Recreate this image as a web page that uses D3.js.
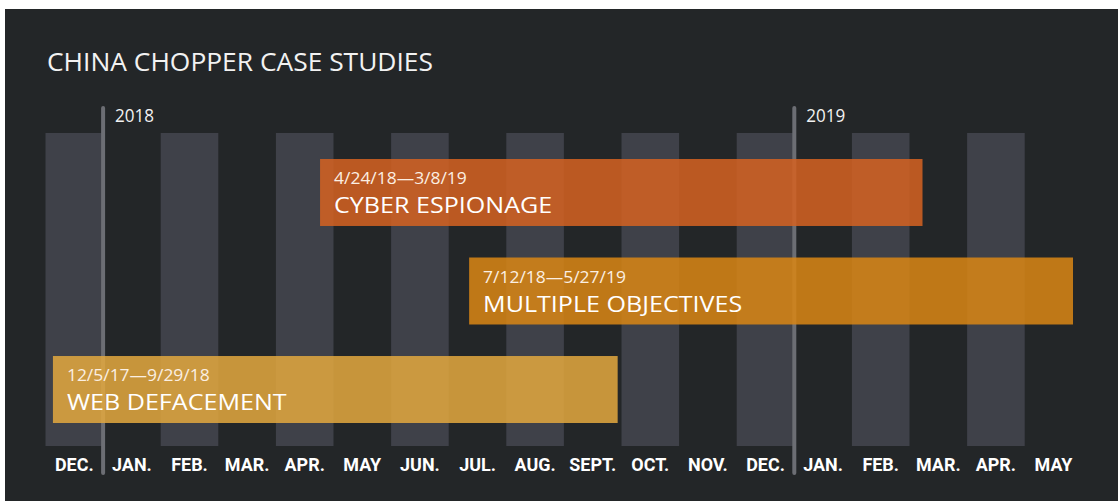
<!DOCTYPE html>
<html>
<head>
<meta charset="utf-8">
<script src="https://cdn.jsdelivr.net/npm/d3@7"></script>
<style>
  html, body { margin: 0; padding: 0; background: #ffffff; }
  svg { display: block; }
</style>
</head>
<body>
<svg id="chart" width="1118" height="501"></svg>
<script>
// ---- data ----
const title = "CHINA CHOPPER CASE STUDIES";
const monthLabels = ["DEC.","JAN.","FEB.","MAR.","APR.","MAY","JUN.","JUL.","AUG.","SEPT.","OCT.","NOV.","DEC.","JAN.","FEB.","MAR.","APR.","MAY"];
const startMonth = { year: 2017, month: 12 };
const yearMarkers = [ { label: "2018", monthIndex: 1 }, { label: "2019", monthIndex: 13 } ];
const caseNames = ["CYBER ESPIONAGE", "MULTIPLE OBJECTIVES", "WEB DEFACEMENT"];
const caseStarts = ["4/24/18", "7/12/18", "12/5/17"];
const caseEnds = ["3/8/19", "5/27/19", "9/29/18"];
const caseColors = ["#d46222", "#d88615", "#e2a83f"];

// ---- helpers ----
function monthPos(str) {
  const [m, d, y] = str.split("/").map(Number);
  const year = 2000 + y;
  const days = new Date(year, m, 0).getDate();
  return (year - startMonth.year) * 12 + (m - startMonth.month) + (d - 1) / days;
}
function widen(sel, f) {
  sel.each(function () {
    const len = this.getComputedTextLength();
    d3.select(this).attr("textLength", len * f).attr("lengthAdjust", "spacingAndGlyphs");
  });
}

const svg = d3.select("#chart");
const W = 1118, H = 501;

svg.append("rect").attr("x", 5).attr("y", 9).attr("width", W - 5).attr("height", H - 9).attr("fill", "#232628");

const x = d3.scaleLinear().domain([0, monthLabels.length]).range([45.5, 45.5 + monthLabels.length * 57.6]);
const y = d3.scaleBand().domain(caseNames).range([159, 423]).paddingInner(0.32).paddingOuter(0);

// month bands (every other month)
svg.append("g").selectAll("rect")
  .data(monthLabels.map((m, i) => i).filter(i => i % 2 === 0))
  .join("rect")
  .attr("x", i => x(i))
  .attr("width", i => x(i + 1) - x(i))
  .attr("y", 133)
  .attr("height", 446 - 133)
  .attr("fill", "#3f4149");

// year marker lines
svg.append("g").selectAll("line")
  .data(yearMarkers)
  .join("line")
  .attr("x1", d => x(d.monthIndex))
  .attr("x2", d => x(d.monthIndex))
  .attr("y1", 108)
  .attr("y2", 473)
  .attr("stroke", "#6c6e74")
  .attr("stroke-width", 4)
  .attr("stroke-linecap", "round");

svg.append("g").selectAll("text")
  .data(yearMarkers)
  .join("text")
  .attr("x", d => x(d.monthIndex) + 12)
  .attr("y", 121.5)
  .attr("fill", "#f2f2f2")
  .attr("font-family", "'Open Sans', sans-serif")
  .attr("font-size", 18)
  .attr("textLength", 39)
  .attr("lengthAdjust", "spacingAndGlyphs")
  .text(d => d.label);

// month axis labels
const axis = d3.axisBottom(x)
  .tickValues(monthLabels.map((m, i) => i + 0.5))
  .tickFormat((d, i) => monthLabels[i])
  .tickSize(0)
  .tickPadding(0);
const axG = svg.append("g").attr("transform", "translate(0,458)").call(axis);
axG.select(".domain").remove();
axG.selectAll("text")
  .attr("fill", "#ffffff")
  .attr("font-family", "Roboto, sans-serif")
  .attr("font-weight", 700)
  .attr("font-size", 18.5)
  .attr("dy", 0)
  .attr("y", 13);
axG.selectAll(".tick").attr("transform", d => `translate(${x(d)},0) scale(0.97,1)`);

// case bars
const bars = svg.append("g").selectAll("g")
  .data(caseNames.map((n, i) => ({ name: n, start: caseStarts[i], end: caseEnds[i], color: caseColors[i] })))
  .join("g");

bars.append("rect")
  .attr("x", d => x(monthPos(d.start)))
  .attr("width", d => x(monthPos(d.end)) - x(monthPos(d.start)))
  .attr("y", d => y(d.name))
  .attr("height", y.bandwidth())
  .attr("fill", d => d.color)
  .attr("fill-opacity", 0.86);

const dateTexts = bars.append("text")
  .attr("x", d => x(monthPos(d.start)) + 14)
  .attr("y", d => y(d.name) + 25)
  .attr("fill", "#fbefe2")
  .attr("font-family", "'Open Sans', sans-serif")
  .attr("font-size", 16)
  .text(d => d.start + "\u2014" + d.end);
widen(dateTexts, 1.09);

const nameTexts = bars.append("text")
  .attr("x", d => x(monthPos(d.start)) + 14)
  .attr("y", d => y(d.name) + 54)
  .attr("fill", "#ffffff")
  .attr("font-family", "'Open Sans', sans-serif")
  .attr("font-size", 22)
  .text(d => d.name);
widen(nameTexts, 1.14);

// title
svg.append("text")
  .attr("x", 47)
  .attr("y", 71)
  .attr("fill", "#f2f2f2")
  .attr("font-family", "'Open Sans', sans-serif")
  .attr("font-size", 25)
  .attr("textLength", 386)
  .attr("lengthAdjust", "spacingAndGlyphs")
  .text(title);
</script>
</body>
</html>
